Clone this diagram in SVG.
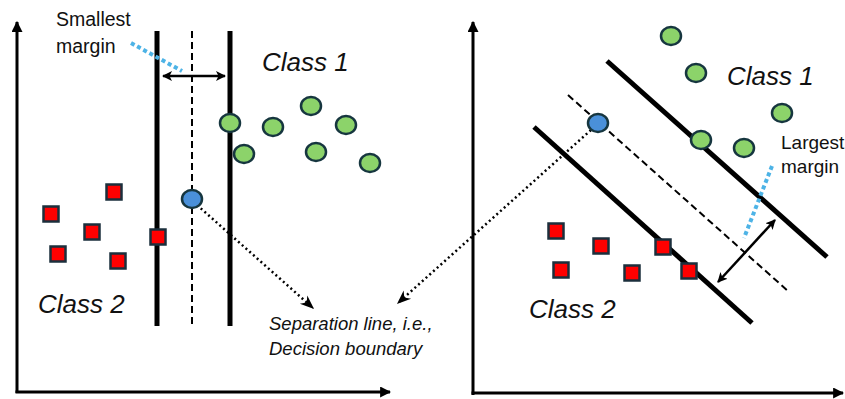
<svg xmlns="http://www.w3.org/2000/svg" width="845" height="399" viewBox="0 0 845 399">
<style>
.axis{stroke:#000;stroke-width:3;fill:none}
.bound{stroke:#000;stroke-width:5;fill:none}
.dash{stroke:#000;stroke-width:2;stroke-dasharray:7 4;fill:none}
.dot{stroke:#000;stroke-width:2.5;stroke-dasharray:2 3;fill:none}
.blue{stroke:#4db3e6;stroke-width:4;stroke-dasharray:4 3;fill:none}
.dbl{stroke:#000;stroke-width:2.5;fill:none}
.g{fill:#8cd36a;stroke:#16363f;stroke-width:2.5}
.b{fill:#4a90d9;stroke:#16363f;stroke-width:2.5}
.r{fill:#ff0000;stroke:#1b2f3c;stroke-width:2.5}
.lbl{font-family:"Liberation Sans",Arial,sans-serif;font-size:19.5px;fill:#111}
.cls{font-family:"Liberation Sans",Arial,sans-serif;font-style:italic;font-size:26px;fill:#111}
.sep{font-family:"Liberation Sans",Arial,sans-serif;font-style:italic;font-size:18.5px;fill:#111}
</style>
<defs>
<marker id="ah" viewBox="0 0 10 10" refX="9" refY="5" markerWidth="10" markerHeight="10" markerUnits="userSpaceOnUse" orient="auto-start-reverse">
<path d="M0,0 L10,5 L0,10 L2.5,5 z" fill="#000"/>
</marker>
<marker id="ax" viewBox="0 0 10 10" refX="9" refY="5" markerWidth="11" markerHeight="11" markerUnits="userSpaceOnUse" orient="auto">
<path d="M0,0 L10,5 L0,10 z" fill="#000"/>
</marker>
<marker id="dh" viewBox="0 0 10 10" refX="9" refY="5" markerWidth="14" markerHeight="14" markerUnits="userSpaceOnUse" orient="auto">
<path d="M0,1 L10,5 L0,9 L3,5 z" fill="#000"/>
</marker>
</defs>

<g id="left-axes">
<line class="axis" x1="17" y1="393" x2="17" y2="22" marker-end="url(#ax)"/>
<line class="axis" x1="15.5" y1="392" x2="390" y2="392" marker-end="url(#ax)"/>
</g>
<g id="right-axes">
<line class="axis" x1="473" y1="395" x2="473" y2="22" marker-end="url(#ax)"/>
<line class="axis" x1="471.5" y1="393" x2="843" y2="393" marker-end="url(#ax)"/>
</g>

<g id="connectors">
<line class="bound" x1="157" y1="31" x2="157" y2="326"/>
<line class="dash" x1="192" y1="31" x2="192" y2="326"/>
<line class="bound" x1="230" y1="31" x2="230" y2="326"/>
<line class="dbl" x1="163" y1="76" x2="225" y2="76" marker-start="url(#ah)" marker-end="url(#ah)"/>
<line class="blue" x1="131" y1="43" x2="182" y2="71"/>
<line class="bound" x1="607" y1="61" x2="827" y2="257"/>
<line class="dash" x1="568" y1="95" x2="788" y2="291"/>
<line class="bound" x1="534" y1="127" x2="752" y2="323"/>
<line class="dbl" x1="775" y1="220" x2="718" y2="282" marker-start="url(#ah)" marker-end="url(#ah)"/>
<line class="blue" x1="772" y1="166" x2="744" y2="238"/>
<line class="dot" x1="197" y1="205" x2="313" y2="308" marker-end="url(#dh)"/>
<line class="dot" x1="591" y1="130" x2="398" y2="303" marker-end="url(#dh)"/>
</g>

<g id="class1-left">
<ellipse class="g" cx="230" cy="123" rx="10" ry="9"/>
<ellipse class="g" cx="273" cy="127" rx="10" ry="9"/>
<ellipse class="g" cx="311" cy="106" rx="10" ry="9"/>
<ellipse class="g" cx="346" cy="125" rx="10" ry="9"/>
<ellipse class="g" cx="244" cy="154" rx="10" ry="9"/>
<ellipse class="g" cx="316" cy="152" rx="10" ry="9"/>
<ellipse class="g" cx="370" cy="163" rx="10" ry="9"/>
</g>
<g id="support-left">
<ellipse class="b" cx="192" cy="199" rx="10" ry="9"/>
</g>
<g id="class2-left">
<rect class="r" x="106.5" y="184.5" width="15" height="15"/>
<rect class="r" x="43.5" y="206.5" width="15" height="15"/>
<rect class="r" x="84.5" y="224.5" width="15" height="15"/>
<rect class="r" x="50.5" y="246.5" width="15" height="15"/>
<rect class="r" x="110.5" y="253.5" width="15" height="15"/>
<rect class="r" x="150.5" y="229.5" width="15" height="15"/>
</g>

<g id="class1-right">
<ellipse class="g" cx="671" cy="36" rx="10" ry="9"/>
<ellipse class="g" cx="696" cy="73" rx="10" ry="9"/>
<ellipse class="g" cx="782" cy="113" rx="10" ry="9"/>
<ellipse class="g" cx="701" cy="140" rx="10" ry="9"/>
<ellipse class="g" cx="744" cy="148" rx="10" ry="9"/>
</g>
<g id="support-right">
<ellipse class="b" cx="598" cy="123" rx="10" ry="9"/>
</g>
<g id="class2-right">
<rect class="r" x="548.5" y="223.5" width="15" height="15"/>
<rect class="r" x="593.5" y="238.5" width="15" height="15"/>
<rect class="r" x="655.5" y="239.5" width="15" height="15"/>
<rect class="r" x="553.5" y="262.5" width="15" height="15"/>
<rect class="r" x="624.5" y="265.5" width="15" height="15"/>
<rect class="r" x="681.5" y="263.5" width="15" height="15"/>
</g>

<g id="labels">
<text class="lbl" x="56" y="26">Smallest</text>
<text class="lbl" x="56" y="53">margin</text>
<text class="cls" x="262" y="71">Class 1</text>
<text class="cls" x="38" y="313">Class 2</text>
<text class="sep" x="269" y="330">Separation line, i.e.,</text>
<text class="sep" x="269" y="355">Decision boundary</text>
<text class="cls" x="727" y="85">Class 1</text>
<text class="cls" x="529" y="318">Class 2</text>
<text class="lbl" x="781" y="149" style="font-size:19px">Largest</text>
<text class="lbl" x="781" y="173" style="font-size:19px">margin</text>
</g>
</svg>
